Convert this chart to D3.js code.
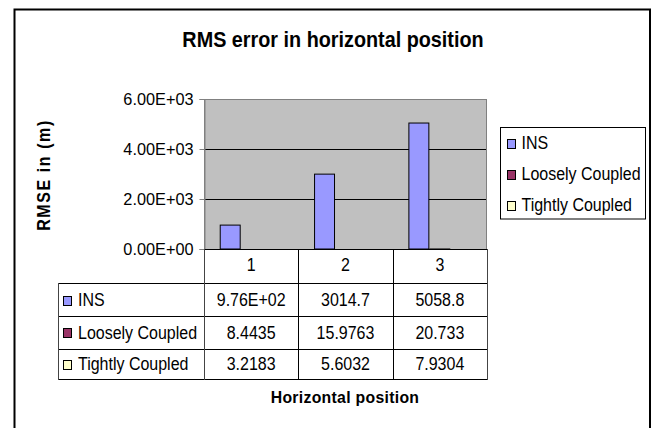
<!DOCTYPE html>
<html>
<head>
<meta charset="utf-8">
<script src="https://cdn.jsdelivr.net/npm/d3@7"></script>
<style>
  html, body { margin: 0; padding: 0; background: #fff; }
  svg { display: block; font-family: "Liberation Sans", Arial, sans-serif; }
</style>
</head>
<body>
<svg id="chart" width="658" height="428"></svg>
<script>
// Chart data
const categories = ["1", "2", "3"];
const seriesNames = ["INS", "Loosely Coupled", "Tightly Coupled"];
const insValues = [976, 3014.7, 5058.8];
const looselyValues = [8.4435, 15.9763, 20.733];
const tightlyValues = [3.2183, 5.6032, 7.9304];
const tableLabels = [
  ["9.76E+02", "3014.7", "5058.8"],
  ["8.4435", "15.9763", "20.733"],
  ["3.2183", "5.6032", "7.9304"]
];
const yTicks = [0, 2000, 4000, 6000];
const seriesColors = ["#9999FF", "#993366", "#FFFFCC"];

const seriesValues = [insValues, looselyValues, tightlyValues];

const svg = d3.select("#chart");

// Text helper: slightly tall glyphs, as the chart's typeface renders
function label(g, x, y, str, opts = {}) {
  const size = opts.size || 16;
  const sy = opts.sy || 1.1;
  const t = g.append("text")
    .attr("transform", `translate(${x},${y}) ${opts.rotate ? `rotate(${opts.rotate})` : ""} scale(1,${sy})`)
    .attr("font-size", size)
    .attr("fill", "#000")
    .attr("text-anchor", opts.anchor || "start")
    .text(str);
  if (opts.bold) t.attr("font-weight", "bold");
  if (opts.spacing) t.attr("letter-spacing", opts.spacing);
  return t;
}

// Outer chart frame
svg.append("rect")
  .attr("x", 14.5).attr("y", 9.5)
  .attr("width", 635.5).attr("height", 440)
  .attr("fill", "#fff").attr("stroke", "#000").attr("stroke-width", 2);

// Plot area geometry
const plot = { left: 204, right: 487, top: 99, bottom: 249 };

const x = d3.scaleBand()
  .domain(categories)
  .range([plot.left, plot.right])
  .padding(0);

const xs = d3.scaleBand()
  .domain(seriesNames)
  .range([0, x.bandwidth()])
  .paddingInner(0)
  .paddingOuter(0.75);

const y = d3.scaleLinear()
  .domain([0, 6000])
  .range([plot.bottom, plot.top]);

// Plot background
svg.append("rect")
  .attr("x", plot.left).attr("y", plot.top)
  .attr("width", plot.right - plot.left).attr("height", plot.bottom - plot.top)
  .attr("fill", "#C0C0C0");

// Gridlines
svg.append("g")
  .selectAll("line")
  .data(yTicks.filter(d => d > 0 && d < 6000))
  .join("line")
  .attr("x1", plot.left).attr("x2", plot.right)
  .attr("y1", d => Math.round(y(d)) + 0.5).attr("y2", d => Math.round(y(d)) + 0.5)
  .attr("stroke", "#000").attr("stroke-width", 1);

// Plot border
svg.append("rect")
  .attr("x", plot.left + 0.5).attr("y", plot.top + 0.5)
  .attr("width", plot.right - plot.left - 1).attr("height", plot.bottom - plot.top)
  .attr("fill", "none").attr("stroke", "#808080").attr("stroke-width", 1);

// Bars
const groups = svg.append("g")
  .selectAll("g")
  .data(seriesNames)
  .join("g")
  .attr("fill", (d, i) => seriesColors[i]);

groups.selectAll("rect")
  .data((s, si) => categories.map((c, ci) => ({ s, c, v: seriesValues[si][ci] })))
  .join("rect")
  .attr("x", d => x(d.c) + xs(d.s) + 0.5)
  .attr("y", d => y(d.v) + 0.5)
  .attr("width", xs.bandwidth() - 1)
  .attr("height", d => Math.max(0, y(0) - y(d.v) - 0.5))
  .attr("stroke", "#000").attr("stroke-width", 1);

// Value axis
const yAxis = svg.append("g")
  .attr("transform", `translate(${plot.left + 0.5},0)`)
  .call(d3.axisLeft(y).tickValues(yTicks).tickSize(5).tickPadding(6)
    .tickFormat(d => d3.format(".2e")(d).replace("e", "E").replace(/E([+-])(\d)$/, "E$10$2")));
yAxis.select(".domain").attr("stroke", "#808080");
yAxis.selectAll(".tick line").attr("stroke", "#808080");
yAxis.selectAll(".tick text")
  .attr("font-size", 16.3)
  .attr("font-family", "'Liberation Sans', Arial, sans-serif")
  .attr("fill", "#000")
  .attr("dy", "0.36em");

// Data table
const rowEdges = [249, 283, 316, 348.5, 378.5];
const tableLeft = 58;
const tbl = svg.append("g").attr("stroke", "#000").attr("stroke-width", 1);

// horizontal rules
rowEdges.forEach((ry, i) => {
  tbl.append("line")
    .attr("x1", i === 0 ? plot.left : tableLeft).attr("x2", plot.right)
    .attr("y1", Math.round(ry) + 0.5).attr("y2", Math.round(ry) + 0.5);
});
// vertical rules: category boundaries
[plot.left, ...categories.map(c => x(c) + x.bandwidth())].forEach((vx, i) => {
  tbl.append("line")
    .attr("x1", Math.round(vx) + 0.5).attr("x2", Math.round(vx) + 0.5)
    .attr("y1", rowEdges[0]).attr("y2", Math.round(rowEdges[4]) + 1)
    .attr("stroke", i === 0 || i === 3 ? "#444" : "#000");
});
// left edge of the series column
tbl.append("line")
  .attr("x1", tableLeft + 0.5).attr("x2", tableLeft + 0.5)
  .attr("y1", rowEdges[1]).attr("y2", Math.round(rowEdges[4]) + 1)
  .attr("stroke", "#444");

const tText = svg.append("g");
// category header row
categories.forEach(c => {
  label(tText, x(c) + x.bandwidth() / 2, 271, c, { anchor: "middle" });
});
// series rows
seriesNames.forEach((s, si) => {
  const top = rowEdges[si + 1], bot = rowEdges[si + 2];
  const mid = (top + bot) / 2;
  tText.append("rect")
    .attr("x", 63.5).attr("y", Math.round(mid) - 3.5)
    .attr("width", 8).attr("height", 9)
    .attr("fill", seriesColors[si]).attr("stroke", "#000");
  label(tText, 78, mid + 6.5, s);
  categories.forEach((c, ci) => {
    label(tText, x(c) + x.bandwidth() / 2, mid + 6.5, tableLabels[si][ci], { anchor: "middle" });
  });
});

// Legend
const legend = svg.append("g");
legend.append("rect")
  .attr("x", 500.5).attr("y", 127.5)
  .attr("width", 145).attr("height", 91.5)
  .attr("fill", "#fff").attr("stroke", "#000").attr("stroke-width", 1);
seriesNames.forEach((s, i) => {
  const by = 149 + i * 31;
  legend.append("rect")
    .attr("x", 507.5).attr("y", by - 9.5)
    .attr("width", 8).attr("height", 9)
    .attr("fill", seriesColors[i]).attr("stroke", "#000");
  label(legend, 521.5, by, s);
});

// Titles
label(svg, 333, 46.5, "RMS error in horizontal position", { size: 19.8, bold: true, anchor: "middle", sy: 1.15 });
label(svg, 50, 175, "RMSE in (m)", { size: 16, bold: true, anchor: "middle", rotate: -90, sy: 1.1, spacing: 1.6 });
label(svg, 345, 402.5, "Horizontal position", { size: 15.8, bold: true, anchor: "middle", sy: 1.1, spacing: 0.3 });
</script>
</body>
</html>
